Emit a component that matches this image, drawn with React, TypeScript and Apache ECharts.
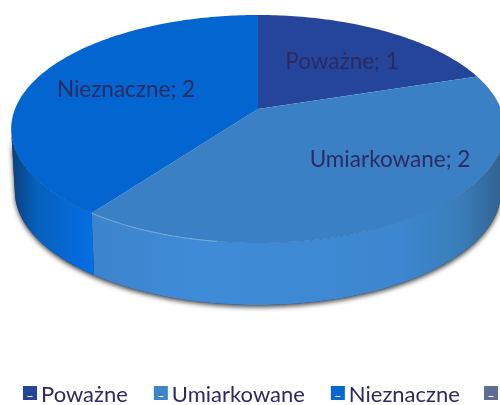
import React, { useEffect, useRef } from "react";
import * as echarts from "echarts";

const categories = ["Poważne", "Umiarkowane", "Nieznaczne"];
const values = [1, 2, 2];
const topColors = ["#25459a", "#3b80c4", "#0365cf"];
const legendColors = ["#25459a", "#3b85c8", "#0568d2"];
const labelCenters = [[342, 60], [390, 158], [126, 88]];
const fourthSwatchColor = "#5b6f94";

const CX = 258, CY = 109, A = 243, B = 110.5, K = 0.1754, DEPTH = 62, SILHOUETTE_Y = 129, BOTTOM_SCALE = 0.985;
const total = values.reduce((s, v) => s + v, 0);

function project(deg: number): number[] {
  const t = (deg * Math.PI) / 180;
  const u = Math.sin(t), v = Math.cos(t), w = 1 + K * v;
  return [CX + (A * u) / w, CY - (B * v) / w];
}
function arcPoints(from: number, to: number): number[][] {
  const pts: number[][] = [];
  const n = Math.max(2, Math.ceil(Math.abs(to - from)));
  for (let i = 0; i <= n; i++) pts.push(project(from + ((to - from) * i) / n));
  return pts;
}
function lowerPoints(from: number, to: number): number[][] {
  return arcPoints(from, to).filter((p) => p[1] >= SILHOUETTE_Y);
}
function sidePolygon(top: number[][]): number[][] {
  return top.concat(
    top.slice().reverse().map((p) => [CX + (p[0] - CX) * BOTTOM_SCALE, p[1] + DEPTH])
  );
}
const sideGradients: any[] = [
  null,
  new echarts.graphic.LinearGradient(92, 0, 505, 0, [
    { offset: 0, color: "#3c84cc" },
    { offset: 0.25, color: "#3f8bd8" },
    { offset: 0.75, color: "#3c87cf" },
    { offset: 0.9, color: "#3a7cb8" },
    { offset: 1, color: "#2f5f8c" },
  ], true),
  new echarts.graphic.LinearGradient(11, 0, 95, 0, [
    { offset: 0, color: "#0a3f78" },
    { offset: 0.3, color: "#0660bd" },
    { offset: 1, color: "#056fe6" },
  ], true),
];

export default function App() {
  const ref = useRef<HTMLDivElement>(null);
  useEffect(() => {
    const chart = echarts.init(ref.current!, undefined, { renderer: "svg" });
    let acc = 0;
    const ranges = values.map((v) => {
      const from = (acc / total) * 360;
      acc += v;
      return [from, (acc / total) * 360];
    });
    const sliceSeries = categories.map((name, i) => ({
      type: "custom",
      name,
      coordinateSystem: "none",
      silent: true,
      itemStyle: { color: legendColors[i] },
      data: [values[i]],
      z: 3,
      renderItem: (_p: any, api: any) => {
        const [from, to] = ranges[i];
        const children: any[] = [];
        const lower = lowerPoints(from, to);
        if (lower.length > 1 && sideGradients[i]) {
          children.push({
            type: "polygon",
            shape: { points: sidePolygon(lower) },
            style: { fill: sideGradients[i] },
          });
        }
        children.push({
          type: "polygon",
          shape: { points: [[CX, CY], ...arcPoints(from, to)] },
          style: { fill: topColors[i] },
        });
        children.push({
          type: "text",
          style: {
            text: `${name}; ${api.value(0)}`,
            x: labelCenters[i][0],
            y: labelCenters[i][1],
            align: "center",
            verticalAlign: "middle",
            fill: "#2b2a63",
            font: "22.5px Lato",
          },
        });
        return { type: "group", children };
      },
    }));
    const shadowSeries = {
      type: "custom",
      name: "shadow",
      coordinateSystem: "none",
      silent: true,
      data: [0],
      z: 2,
      renderItem: () => ({
        type: "polygon",
        shape: { points: sidePolygon(lowerPoints(60, 300)) },
        style: {
          fill: "#333",
          shadowBlur: 5,
          shadowColor: "rgba(0,0,0,0.75)",
          shadowOffsetY: 2,
        },
      }),
    };
    const highlight = {
      type: "custom",
      name: "highlight",
      coordinateSystem: "none",
      silent: true,
      data: [0],
      z: 4,
      renderItem: () => ({
        type: "polyline",
        shape: { points: arcPoints(216, 188) },
        style: { fill: "none", stroke: "rgba(190,225,255,0.55)", lineWidth: 0.8 },
      }),
    };
    chart.setOption({
      animation: false,
      legend: {
        left: 23,
        top: 382,
        padding: 0,
        itemWidth: 14,
        itemHeight: 14,
        itemGap: 26,
        selectedMode: false,
        icon: "path://M0 0H14V14H0Z M4.5 10V11H9.5V10Z",
        textStyle: { fontFamily: "Lato", fontSize: 22, lineHeight: 20, color: "#2b2a63", padding: [0, 0, 0, -1] },
        data: categories.map((name, i) => ({ name, itemStyle: { color: legendColors[i] } })),
      },
      graphic: [
        {
          type: "rect",
          shape: { x: 484, y: 386, width: 14, height: 14 },
          style: { fill: fourthSwatchColor },
        },
        {
          type: "rect",
          shape: { x: 488.5, y: 396, width: 5, height: 1 },
          style: { fill: "#fff" },
        },
      ],
      series: [shadowSeries, ...sliceSeries, highlight],
    });
    return () => chart.dispose();
  }, []);
  return <div ref={ref} style={{ position: "fixed", left: 0, top: 0, width: 500, height: 405 }} />;
}
